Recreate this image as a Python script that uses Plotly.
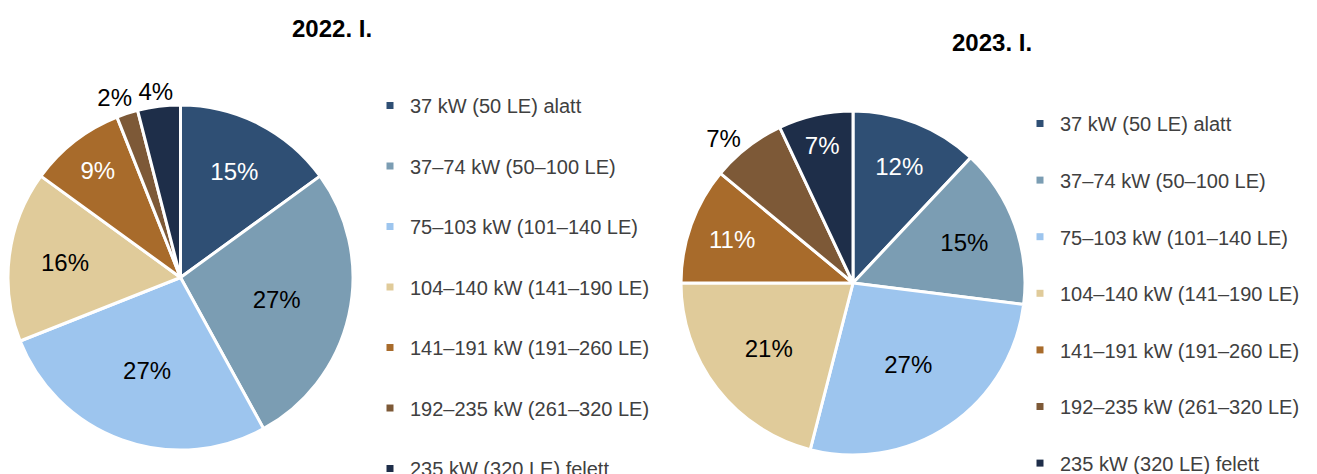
import plotly.graph_objects as go

categories = [
    "37 kW (50 LE) alatt",
    "37–74 kW (50–100 LE)",
    "75–103 kW (101–140 LE)",
    "104–140 kW (141–190 LE)",
    "141–191 kW (191–260 LE)",
    "192–235 kW (261–320 LE)",
    "235 kW (320 LE) felett",
]
values_2022 = [15, 27, 27, 16, 9, 2, 4]
values_2023 = [12, 15, 27, 21, 11, 7, 7]
titles = ["2022. I.", "2023. I."]

colors = ["#2F4F74", "#7B9DB3", "#9DC5EE", "#E0CB9A", "#A86B2B", "#7D5937", "#1E2E49"]
text_colors = ["white", "black", "black", "black", "white", "white", "white"]
# label placement per slice: main trace / overlay traces (overlays avoid label collision shifting)
main_pos_2022 = ["inside", "inside", "inside", "inside", "inside", "none", "none"]
over_a_2022 = ["none", "none", "none", "none", "none", "outside", "none"]
over_b_2022 = ["none", "none", "none", "none", "none", "none", "outside"]
main_pos_2023 = ["inside", "inside", "inside", "inside", "inside", "outside", "inside"]

W, H = 1317, 474
FONT = "Liberation Sans, Arial, sans-serif"
PCT_SIZE = 24

fig = go.Figure()

def dom(x0, x1, y0, y1):
    return dict(x=[x0 / W, x1 / W], y=[1 - y1 / H, 1 - y0 / H])

def add_pie(vals, positions, d, transparent=False, rotation=0):
    if transparent:
        mk = dict(colors=["rgba(0,0,0,0)"] * len(vals), line=dict(width=0))
    else:
        mk = dict(colors=colors, line=dict(color="white", width=3))
    tt = ["%{value}%" if p != "none" else "" for p in positions]
    fig.add_trace(go.Pie(
        labels=categories,
        values=vals,
        sort=False,
        direction="clockwise",
        rotation=rotation,
        marker=mk,
        texttemplate=tt,
        textposition=positions,
        insidetextorientation="horizontal",
        insidetextfont=dict(color=text_colors, size=PCT_SIZE, family=FONT),
        outsidetextfont=dict(color="black", size=PCT_SIZE, family=FONT),
        showlegend=False,
        hoverinfo="skip" if transparent else "label+percent",
        domain=d,
    ))

d1 = dom(0, 345, 97, 442)
d2 = dom(673, 1017, 103, 447)
add_pie(values_2022, main_pos_2022, d1)
add_pie(values_2022, over_a_2022, d1, transparent=True, rotation=4)
add_pie(values_2022, over_b_2022, d1, transparent=True, rotation=7)
add_pie(values_2023, main_pos_2023, d2)

# legend entries (one group per item to reproduce the wide spacing)
for leg in ["legend", "legend2"]:
    for i, (cat, col) in enumerate(zip(categories, colors)):
        fig.add_trace(go.Scatter(
            x=[None], y=[None], mode="markers",
            marker=dict(symbol="square", size=7, color=col),
            name=cat, legend=leg, legendgroup=f"{leg}_{i}",
            showlegend=True, hoverinfo="skip",
        ))

fig.update_layout(
    width=W, height=H,
    margin=dict(l=0, r=0, t=0, b=0, autoexpand=False),
    paper_bgcolor="white", plot_bgcolor="white",
    font=dict(family=FONT, color="#404040"),
    xaxis=dict(visible=False), yaxis=dict(visible=False),
    legend=dict(
        x=362 / W, y=1 - 78 / H, xanchor="left", yanchor="top",
        font=dict(size=20, color="#404040", family=FONT),
        tracegroupgap=31.5, bgcolor="rgba(0,0,0,0)", itemclick=False,
    ),
    legend2=dict(
        x=1012 / W, y=1 - 96 / H, xanchor="left", yanchor="top",
        font=dict(size=20, color="#404040", family=FONT),
        tracegroupgap=27.6, bgcolor="rgba(0,0,0,0)", itemclick=False,
    ),
    annotations=[
        dict(text=f"<b>{titles[0]}</b>", x=324 / W, y=1 - 20 / H, xref="paper", yref="paper",
             xanchor="center", yanchor="middle",
             showarrow=False, font=dict(size=24, color="black", family=FONT)),
        dict(text=f"<b>{titles[1]}</b>", x=984 / W, y=1 - 35 / H, xref="paper", yref="paper",
             xanchor="center", yanchor="middle",
             showarrow=False, font=dict(size=24, color="black", family=FONT)),
    ],
)

fig.write_html("out.html")
